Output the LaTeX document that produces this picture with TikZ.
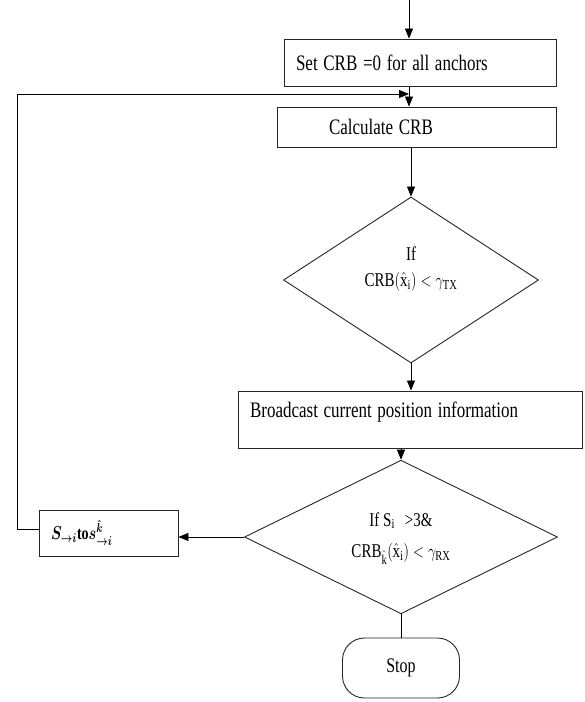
\documentclass[tikz,border=0pt]{standalone}
\usepackage{fontspec}
\setmainfont{Liberation Serif}
\usepackage{amsmath}
\usetikzlibrary{shapes.geometric,arrows.meta}
\newcommand\vt[1]{\scalebox{1}[1.3]{#1}}
\newcommand\upby[2]{\raisebox{#1}[\height][\depth]{#2}}
\begin{document}
\begin{tikzpicture}[x=1pt,y=-1pt,
  box/.style={draw=black!85,line width=0.9pt,rectangle,inner ysep=0pt,inner xsep=12pt,
    font=\fontsize{17}{20}\selectfont,align=left},
  dia/.style={draw=black!85,line width=0.9pt,diamond,inner sep=0pt,
    font=\fontsize{15}{18}\selectfont,align=center},
  arr/.style={line width=0.8pt,-{Triangle[length=10pt,width=8pt]}},
  ln/.style={line width=0.8pt}]
\useasboundingbox (0,0) rectangle (585,702);
% boxes
\node[box,text width=248pt,minimum height=47] (b1) at (420,62.5) {\vt{Set CRB =0 for all anchors}};
\node[box,text width=255pt,minimum height=40] (b2) at (416.5,127) {\hspace*{40pt}\vt{Calculate CRB}};
\node[dia,minimum width=255,minimum height=166] (d1) at (411,280)
  {\upby{11pt}{\vt{\begin{tabular}{@{}c@{}}If\\[2pt] $\mathrm{CRB}(\hat{\mathrm{x}}_{\mathrm{i}}) < \gamma_{\mathrm{TX}}$\end{tabular}}}};
\node[box,text width=320pt,minimum height=57] (b3) at (410,419.5) {\upby{7pt}{\vt{Broadcast current position information}}};
\node[dia,minimum width=313,minimum height=142] (d2) at (401,537)
  {\vt{\begin{tabular}{@{}c@{}}If S$_{\mathrm{i}}$\ \ \,>3\&\\[6pt] $\mathrm{CRB}_{\hat{\mathrm{k}}}(\hat{\mathrm{x}}_{\mathrm{i}}) < \gamma_{\mathrm{RX}}$\end{tabular}}};
\node[box,text width=115pt,minimum height=46,font=\fontsize{14}{16}\selectfont] (bs) at (108.5,533)
  {\vt{$\boldsymbol{S_{\rightarrow i}}$\textbf{to}$\boldsymbol{s^{\hat{k}}_{\rightarrow i}}$}};
\node[box,rounded corners=22pt,minimum width=117,minimum height=60,inner xsep=0pt,align=center,
  font=\fontsize{16}{18}\selectfont] (stop) at (401,668) {\vt{Stop}};
% connectors
\coordinate (top) at (409,0);
\coordinate (lc) at (17,94);
\coordinate (lend) at (409,94);
\draw[arr] (top) -- (top |- b1.north);
\draw[arr] (b1.south -| top) -- (b2.north -| top);
\draw[arr] (b2.south -| d1.north) -- (d1.north);
\draw[arr] (d1.south) -- (d1.south |- b3.north);
\draw[arr] (d2.north |- b3.south) -- (d2.north);
\draw[ln] (d2.south) -- (stop.north);
\draw[arr] (d2.west) -- (d2.west -| bs.east);
\draw[arr] ([yshift=4pt]bs.west) -| (lc) -- (lend);
\end{tikzpicture}
\end{document}
